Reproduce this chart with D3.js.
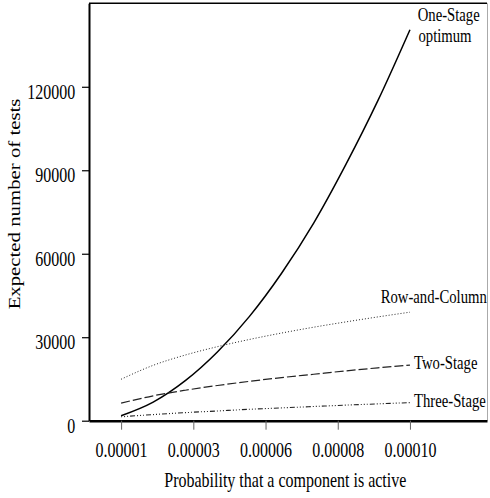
<!DOCTYPE html>
<html>
<head>
<meta charset="utf-8">
<script src="https://cdn.jsdelivr.net/npm/d3@7"></script>
<style>
  body { margin: 0; background: #fff; }
  svg { display: block; }
  text { font-family: "Liberation Serif", "Times New Roman", serif; fill: #000; }
</style>
</head>
<body>
<div id="chart"></div>
<script>
// probability values (x) and expected number of tests for each strategy
const probs = [0.00001, 0.00002, 0.00003, 0.00004, 0.00005, 0.00006, 0.00007, 0.00008, 0.00009, 0.00010];
const oneStage = [1800, 6700, 14400, 24700, 37500, 53000, 71000, 92000, 115000, 140500];
const rowColumn = [14900, 19900, 23600, 26600, 29200, 31500, 33600, 35500, 37300, 39000];
const twoStage = [6300, 8950, 10950, 12650, 14150, 15500, 16700, 17900, 19000, 20000];
const threeStage = [1400, 2200, 2900, 3500, 4100, 4600, 5100, 5600, 6050, 6500];

const xTickValues = [0.00001, 0.0000325, 0.000055, 0.0000775, 0.0001];
const xTickLabels = ['0.00001', '0.00003', '0.00006', '0.00008', '0.00010'];
const yTickValues = [0, 30000, 60000, 90000, 120000];

const width = 490, height = 498;
const SY = 1.3; // the original figure is stretched vertically, text too
const serif = '"Liberation Serif", "Times New Roman", serif';

const x = d3.scaleLinear().domain([0, 0.000124]).range([89, 487]);
const y = d3.scaleLinear().domain([0, 150000]).range([420.7, 3.3]);

const svg = d3.select('#chart').append('svg')
    .attr('width', width)
    .attr('height', height);

// frame: top and right edges
svg.append('line')
    .attr('x1', 89).attr('x2', 487)
    .attr('y1', 3.3).attr('y2', 3.3)
    .attr('stroke', '#000').attr('stroke-width', 1.6);
svg.append('line')
    .attr('x1', 487.5).attr('x2', 487.5)
    .attr('y1', 3.3).attr('y2', 420.7)
    .attr('stroke', '#aaa').attr('stroke-width', 1);

// y axis
const yAxis = svg.append('g')
    .attr('transform', 'translate(89,0)')
    .call(d3.axisLeft(y).tickValues(yTickValues).tickSize(7).tickSizeOuter(0).tickPadding(6.7)
        .tickFormat(d3.format('d')));
yAxis.select('.domain').attr('stroke-width', 2);
yAxis.selectAll('.tick line').attr('stroke-width', 1.2);
yAxis.selectAll('.tick text')
    .attr('font-size', 16)
    .attr('font-family', serif)
    .attr('dy', 0)
    .attr('y', 11.5 / SY)
    .attr('transform', `scale(1,${SY})`);

// x axis
const xAxis = svg.append('g')
    .attr('transform', 'translate(0,420.7)')
    .call(d3.axisBottom(x).tickValues(xTickValues).tickSize(9).tickSizeOuter(0)
        .tickFormat((d, i) => xTickLabels[i]));
xAxis.select('.domain').attr('stroke-width', 2.4);
xAxis.selectAll('.tick line').attr('stroke', '#666').attr('stroke-width', 1);
xAxis.selectAll('.tick text')
    .attr('font-size', 16)
    .attr('font-family', serif)
    .attr('dy', 0)
    .attr('y', 36.6 / SY)
    .attr('transform', `scale(1,${SY})`);

// axis titles
svg.append('text')
    .attr('transform', `translate(285.3,487.3) scale(1,${SY})`)
    .attr('text-anchor', 'middle')
    .attr('font-size', 16)
    .text('Probability that a component is active');

svg.append('text')
    .attr('transform', `translate(20,204) scale(1,${SY}) rotate(-90)`)
    .attr('text-anchor', 'middle')
    .attr('font-size', 16)
    .text('Expected number of tests');

// curves
const series = [
    { name: 'oneStage', values: oneStage, dash: null, width: 1.5, color: '#000' },
    { name: 'rowColumn', values: rowColumn, dash: '1,2', width: 1, color: '#222' },
    { name: 'twoStage', values: twoStage, dash: '9,3', width: 1.2, color: '#222' },
    { name: 'threeStage', values: threeStage, dash: '1,2,1,2,1,2,5,2', width: 1.1, color: '#222' }
];

const line = d3.line()
    .x(d => x(d[0]))
    .y(d => y(d[1]))
    .curve(d3.curveMonotoneX);

series.forEach(s => {
    svg.append('path')
        .datum(probs.map((p, i) => [p, s.values[i]]))
        .attr('fill', 'none')
        .attr('stroke', s.color)
        .attr('stroke-width', s.width)
        .attr('stroke-dasharray', s.dash)
        .attr('d', line);
});

// curve labels
const labels = [
    { text: 'One-Stage', x: 417.7, y: 21 },
    { text: 'optimum', x: 418.5, y: 41.5 },
    { text: 'Row-and-Column', x: 380.7, y: 303 },
    { text: 'Two-Stage', x: 414, y: 369 },
    { text: 'Three-Stage', x: 414, y: 407 }
];

labels.forEach(l => {
    svg.append('text')
        .attr('transform', `translate(${l.x},${l.y}) scale(1,${SY})`)
        .attr('font-size', 14.7)
        .text(l.text);
});
</script>
</body>
</html>
